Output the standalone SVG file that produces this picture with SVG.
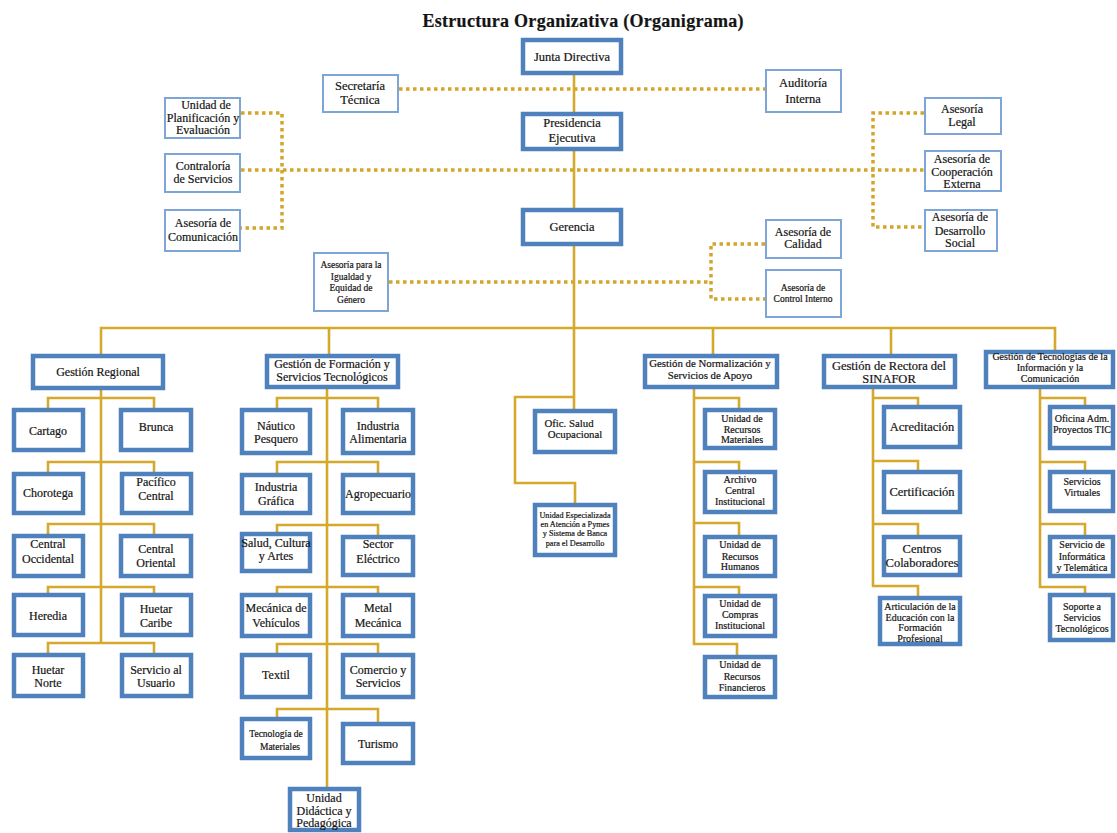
<svg xmlns="http://www.w3.org/2000/svg" width="1117" height="833" viewBox="0 0 1117 833">
<style>
.b{fill:#fff;stroke:#4f81bd;stroke-width:4.5}
.t{fill:#fff;stroke:#7ea5d8;stroke-width:2}
text{font-family:"Liberation Serif",serif;font-size:12.5px;text-anchor:middle;fill:#141414;stroke:#141414;stroke-width:0.2}
.f11{font-size:12px}.f10{font-size:10.8px}.f9{font-size:10px}.f8{font-size:9.5px}.f7{font-size:8.2px}
.ln{fill:none;stroke:#d5a92c;stroke-width:2.6}
.dt{fill:none;stroke:#d4a52b;stroke-width:3.5;stroke-dasharray:3.5 3.5}
</style>
<rect width="1117" height="833" fill="#fff"/>
<text x="583" y="27" style="font-size:18px;font-weight:bold" textLength="321">Estructura Organizativa (Organigrama)</text>
<g id="connectors">
<path class="dt" d="M399 89H765"/>
<path class="dt" d="M241 170H924M241 113H282V228H241M924 113H873V227H924"/>
<path class="dt" d="M389 282H711M765 244H711V299H765"/>
<path class="ln" d="M574 75V409M101 354V328H1055V350M329 328V354M713 328V354M891 328V354"/>
<path class="ln" d="M574 397H515V483H575V503"/>
<path class="ln" d="M101 390V643M48 408V398H154V408M48 472V462H154V472M48 534V524H154V534M48 593V587H154V593M48 653V643H154V653"/>
<path class="ln" d="M327 389V787M277 408V398H378V408M277 473V462H378V473M277 532V525H378V535M277 593V587H378V593M277 653V644H378V653M277 717V709H378V722"/>
<path class="ln" d="M694 389V644H737V655M694 398H739V408M694 462H739V470M694 523H739V535M694 587H739V594"/>
<path class="ln" d="M873 389V586H918V596M873 398H918V405M873 461H918V470M873 524H918V535"/>
<path class="ln" d="M1040 389V587H1085V593M1040 398H1085V405M1040 462H1085V470M1040 524H1085V535"/>
</g>
<g id="junta"><rect class="b" x="523" y="40" width="98" height="33"/><text x="572" y="61">Junta Directiva</text></g>
<g id="presidencia"><rect class="b" x="523" y="114" width="98" height="35"/><text x="572" y="127">Presidencia</text><text x="572" y="142">Ejecutiva</text></g>
<g id="gerencia"><rect class="b" x="523" y="210" width="98" height="34"/><text x="572" y="231">Gerencia</text></g>
<g id="secretaria"><rect class="t" x="323" y="75" width="75" height="37"/><text x="360" y="90">Secretaría</text><text x="360" y="104">Técnica</text></g>
<g id="auditoria"><rect class="t" x="766" y="70" width="75" height="42"/><text x="803" y="87">Auditoría</text><text x="803" y="103">Interna</text></g>
<g id="planificacion"><rect class="t" x="165" y="98" width="75" height="40"/><text class="f11" x="206" y="109">Unidad de</text><text class="f11" x="203" y="122">Planificación y</text><text class="f11" x="203" y="134">Evaluación</text></g>
<g id="contraloria"><rect class="t" x="165" y="154" width="75" height="38"/><text class="f11" x="203" y="170">Contraloría</text><text class="f11" x="203" y="183">de Servicios</text></g>
<g id="comunicacion"><rect class="t" x="165" y="210" width="75" height="41"/><text class="f11" x="203" y="227">Asesoría de</text><text class="f11" x="203" y="241">Comunicación</text></g>
<g id="legal"><rect class="t" x="925" y="98" width="76" height="36"/><text class="f11" x="962" y="113">Asesoría</text><text class="f11" x="962" y="126">Legal</text></g>
<g id="cooperacion"><rect class="t" x="925" y="151" width="76" height="40"/><text class="f11" x="962" y="163">Asesoría de</text><text class="f11" x="962" y="176">Cooperación</text><text class="f11" x="962" y="188">Externa</text></g>
<g id="desarrollo"><rect class="t" x="925" y="210" width="72" height="41"/><text class="f11" x="960" y="221">Asesoría de</text><text class="f11" x="960" y="235">Desarrollo</text><text class="f11" x="960" y="247">Social</text></g>
<g id="calidad"><rect class="t" x="766" y="220" width="75" height="38"/><text class="f11" x="803" y="236">Asesoría de</text><text class="f11" x="803" y="248">Calidad</text></g>
<g id="control"><rect class="t" x="766" y="270" width="75" height="47"/><text class="f8" x="803" y="291">Asesoría de</text><text class="f8" x="803" y="302">Control Interno</text></g>
<g id="igualdad"><rect class="t" x="314" y="253" width="74" height="58"/><text class="f8" x="351" y="268">Asesoría para la</text><text class="f8" x="351" y="280">Igualdad y</text><text class="f8" x="351" y="291">Equidad de</text><text class="f8" x="351" y="303">Género</text></g>
<g id="g-regional"><rect class="b" x="33" y="356" width="130" height="32"/><text class="f11" x="98" y="376">Gestión Regional</text></g>
<g id="g-formacion"><rect class="b" x="267" y="356" width="131" height="31"/><text class="f11" x="332" y="368">Gestión de Formación y</text><text class="f11" x="332" y="381">Servicios Tecnológicos</text></g>
<g id="g-normalizacion"><rect class="b" x="645" y="356" width="132" height="31"/><text class="f10" x="710" y="367">Gestión de Normalización y</text><text class="f10" x="710" y="379">Servicios de Apoyo</text></g>
<g id="g-rectora"><rect class="b" x="824" y="356" width="131" height="31"/><text x="889" y="370">Gestión de Rectora del</text><text x="889" y="383">SINAFOR</text></g>
<g id="g-tecnologias"><rect class="b" x="986" y="352" width="127" height="35"/><text class="f9" x="1050" y="360">Gestión de Tecnologías de la</text><text class="f9" x="1050" y="371">Información y la</text><text class="f9" x="1050" y="382">Comunicación</text></g>
<g id="salud-ocup"><rect class="b" x="535" y="411" width="80" height="41"/><text class="f10" x="569" y="427">Ofic. Salud</text><text class="f10" x="575" y="438">Ocupacional</text></g>
<g id="pymes"><rect class="b" x="535" y="505" width="80" height="50"/><text class="f7" x="575" y="518">Unidad Especializada</text><text class="f7" x="575" y="527">en Atención a Pymes</text><text class="f7" x="575" y="536">y Sistema de Banca</text><text class="f7" x="575" y="546">para el Desarrollo</text></g>
<g id="cartago"><rect class="b" x="14" y="410" width="69" height="40"/><text class="f11" x="48" y="435">Cartago</text></g>
<g id="brunca"><rect class="b" x="121" y="410" width="70" height="40"/><text class="f11" x="156" y="431">Brunca</text></g>
<g id="chorotega"><rect class="b" x="14" y="474" width="69" height="39"/><text class="f11" x="48" y="497">Chorotega</text></g>
<g id="pacifico"><rect class="b" x="122" y="474" width="69" height="39"/><text class="f11" x="156" y="486">Pacífico</text><text class="f11" x="156" y="500">Central</text></g>
<g id="c-occidental"><rect class="b" x="14" y="536" width="69" height="40"/><text class="f11" x="48" y="548">Central</text><text class="f11" x="48" y="563">Occidental</text></g>
<g id="c-oriental"><rect class="b" x="121" y="536" width="70" height="40"/><text class="f11" x="156" y="553">Central</text><text class="f11" x="156" y="567">Oriental</text></g>
<g id="heredia"><rect class="b" x="14" y="595" width="69" height="40"/><text class="f11" x="48" y="620">Heredia</text></g>
<g id="h-caribe"><rect class="b" x="122" y="595" width="69" height="40"/><text class="f11" x="156" y="613">Huetar</text><text class="f11" x="156" y="627">Caribe</text></g>
<g id="h-norte"><rect class="b" x="14" y="655" width="69" height="41"/><text class="f11" x="48" y="674">Huetar</text><text class="f11" x="48" y="687">Norte</text></g>
<g id="usuario"><rect class="b" x="122" y="655" width="69" height="41"/><text class="f11" x="156" y="674">Servicio al</text><text class="f11" x="156" y="687">Usuario</text></g>
<g id="nautico"><rect class="b" x="242" y="410" width="68" height="43"/><text class="f11" x="276" y="430">Náutico</text><text class="f11" x="276" y="443">Pesquero</text></g>
<g id="alimentaria"><rect class="b" x="343" y="410" width="70" height="43"/><text class="f11" x="378" y="430">Industria</text><text class="f11" x="378" y="443">Alimentaria</text></g>
<g id="grafica"><rect class="b" x="242" y="475" width="68" height="38"/><text class="f11" x="276" y="491">Industria</text><text class="f11" x="276" y="505">Gráfica</text></g>
<g id="agropecuario"><rect class="b" x="343" y="475" width="70" height="38"/><text class="f11" x="378" y="498">Agropecuario</text></g>
<g id="salud-cultura"><rect class="b" x="242" y="534" width="68" height="37"/><text class="f11" x="276" y="547">Salud, Cultura</text><text class="f11" x="276" y="560">y Artes</text></g>
<g id="electrico"><rect class="b" x="343" y="537" width="70" height="38"/><text class="f11" x="378" y="548">Sector</text><text class="f11" x="378" y="563">Eléctrico</text></g>
<g id="mecanica-veh"><rect class="b" x="242" y="595" width="68" height="41"/><text class="f11" x="276" y="612">Mecánica de</text><text class="f11" x="276" y="627">Vehículos</text></g>
<g id="metal"><rect class="b" x="343" y="595" width="70" height="41"/><text class="f11" x="378" y="612">Metal</text><text class="f11" x="378" y="627">Mecánica</text></g>
<g id="textil"><rect class="b" x="242" y="655" width="68" height="42"/><text class="f11" x="276" y="679">Textil</text></g>
<g id="comercio"><rect class="b" x="343" y="655" width="70" height="42"/><text class="f11" x="378" y="674">Comercio y</text><text class="f11" x="378" y="687">Servicios</text></g>
<g id="materiales"><rect class="b" x="242" y="719" width="68" height="39"/><text class="f8" x="276" y="737">Tecnología de</text><text class="f8" x="280" y="750">Materiales</text></g>
<g id="turismo"><rect class="b" x="343" y="724" width="70" height="39"/><text class="f11" x="378" y="748">Turismo</text></g>
<g id="didactica"><rect class="b" x="290" y="789" width="69" height="41"/><text class="f11" x="324" y="802">Unidad</text><text class="f11" x="324" y="815">Didáctica y</text><text class="f11" x="324" y="827">Pedagógica</text></g>
<g id="rec-materiales"><rect class="b" x="705" y="410" width="70" height="38"/><text class="f9" x="742" y="422">Unidad de</text><text class="f9" x="742" y="433">Recursos</text><text class="f9" x="742" y="443">Materiales</text></g>
<g id="archivo"><rect class="b" x="705" y="472" width="70" height="40"/><text class="f9" x="740" y="483">Archivo</text><text class="f9" x="740" y="494">Central</text><text class="f9" x="740" y="505">Institucional</text></g>
<g id="rec-humanos"><rect class="b" x="705" y="537" width="70" height="39"/><text class="f9" x="740" y="548">Unidad de</text><text class="f9" x="740" y="560">Recursos</text><text class="f9" x="740" y="570">Humanos</text></g>
<g id="compras"><rect class="b" x="705" y="596" width="70" height="40"/><text class="f9" x="740" y="607">Unidad de</text><text class="f9" x="740" y="618">Compras</text><text class="f9" x="740" y="629">Institucional</text></g>
<g id="rec-financieros"><rect class="b" x="705" y="657" width="70" height="40"/><text class="f9" x="740" y="668">Unidad de</text><text class="f9" x="742" y="680">Recursos</text><text class="f9" x="742" y="691">Financieros</text></g>
<g id="acreditacion"><rect class="b" x="884" y="407" width="76" height="40"/><text x="922" y="431">Acreditación</text></g>
<g id="certificacion"><rect class="b" x="884" y="472" width="76" height="40"/><text x="922" y="496">Certificación</text></g>
<g id="centros"><rect class="b" x="884" y="537" width="76" height="38"/><text x="922" y="553">Centros</text><text x="922" y="567">Colaboradores</text></g>
<g id="articulacion"><rect class="b" x="880" y="598" width="80" height="46"/><text class="f9" x="920" y="610">Articulación de la</text><text class="f9" x="920" y="621">Educación con la</text><text class="f9" x="920" y="631">Formación</text><text class="f9" x="920" y="642">Profesional</text></g>
<g id="oficina-tic"><rect class="b" x="1050" y="407" width="63" height="41"/><text class="f9" x="1082" y="422">Oficina Adm.</text><text class="f9" x="1082" y="433">Proyectos TIC</text></g>
<g id="virtuales"><rect class="b" x="1050" y="472" width="63" height="39"/><text class="f9" x="1082" y="485">Servicios</text><text class="f9" x="1082" y="496">Virtuales</text></g>
<g id="informatica"><rect class="b" x="1050" y="537" width="63" height="39"/><text class="f9" x="1082" y="548">Servicio de</text><text class="f9" x="1082" y="560">Informática</text><text class="f9" x="1082" y="571">y Telemática</text></g>
<g id="soporte"><rect class="b" x="1050" y="595" width="63" height="45"/><text class="f9" x="1082" y="610">Soporte a</text><text class="f9" x="1082" y="621">Servicios</text><text class="f9" x="1082" y="632">Tecnológicos</text></g>
</svg>
